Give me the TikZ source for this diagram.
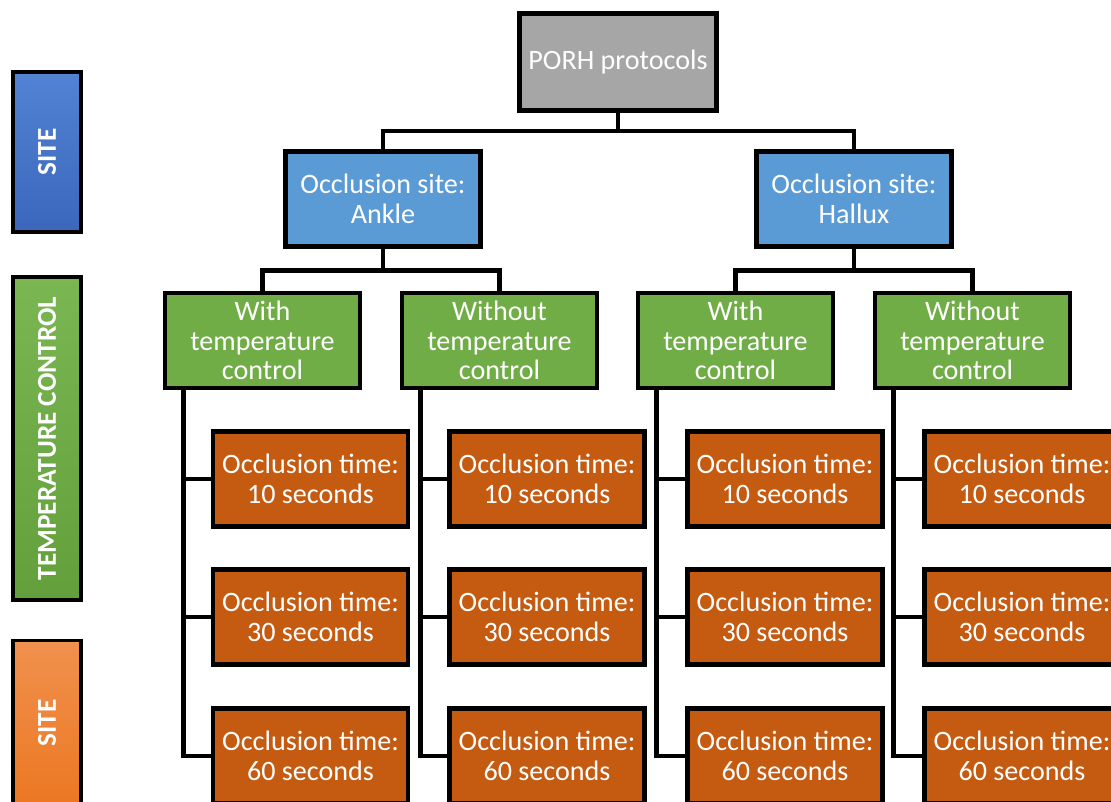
\documentclass[tikz,border=0pt]{standalone}
\usepackage{fontspec}
\setmainfont{Carlito}
\usetikzlibrary{calc}
\definecolor{boxgray}{HTML}{A6A6A6}
\definecolor{siteblue}{HTML}{5B9BD5}
\definecolor{tempgreen}{HTML}{70AD47}
\definecolor{timeorange}{HTML}{C55A11}
\definecolor{legblueT}{HTML}{5283D3}
\definecolor{legblueB}{HTML}{3B66BC}
\definecolor{leggreenT}{HTML}{7AB651}
\definecolor{leggreenB}{HTML}{63A03C}
\definecolor{legorangeT}{HTML}{F0914E}
\definecolor{legorangeB}{HTML}{EC7722}
\begin{document}
\begin{tikzpicture}[x=0.02cm,y=-0.02cm,
  box/.style={draw=black,line width=2.6pt,text=white,align=center,
    inner sep=0pt,minimum width=3.9cm,minimum height=1.9cm,
    font=\fontsize{16}{16.8}\selectfont},
  legend/.style={draw=black,line width=2.2pt,inner sep=0pt,text=white,
    minimum width=1.35cm,font=\fontsize{15.5}{17}\selectfont\bfseries},
  link/.style={draw=black,line width=2.6pt}]
\useasboundingbox (0,0) rectangle (1111,801);
\clip (0,0) rectangle (1111,801);

% legend bars on the left
\node[legend,minimum height=3.2cm,top color=legblueT,bottom color=legblueB]
  (lsite) at (47,152) {\rotatebox{90}{SITE}};
\node[legend,minimum height=6.45cm,top color=leggreenT,bottom color=leggreenB]
  (ltemp) at (47,438.5) {\rotatebox{90}{TEMPERATURE CONTROL}};
\node[legend,minimum height=3.3cm,top color=legorangeT,bottom color=legorangeB]
  (ltime) at (47,723) {\rotatebox{90}{SITE}};

% root
\node[box,fill=boxgray,minimum width=3.95cm,minimum height=1.95cm] (porh) at (618,62) {PORH protocols};

% occlusion sites
\node[box,fill=siteblue] (ankle) at (383,199) {Occlusion site:\\Ankle};
\node[box,fill=siteblue] (hallux) at (854,199) {Occlusion site:\\Hallux};

% temperature control
\node[box,fill=tempgreen] (g1) at (262.5,340.5) {With\\temperature\\control};
\node[box,fill=tempgreen] (g2) at (499.5,340.5) {Without\\temperature\\control};
\node[box,fill=tempgreen] (g3) at (735.5,340.5) {With\\temperature\\control};
\node[box,fill=tempgreen] (g4) at (972.5,340.5) {Without\\temperature\\control};

% occlusion times
\foreach \g/\cx in {1/310.5,2/547,3/785,4/1022}{
  \node[box,fill=timeorange] (o\g a) at (\cx,479) {Occlusion time:\\10 seconds};
  \node[box,fill=timeorange] (o\g b) at (\cx,617) {Occlusion time:\\30 seconds};
  \node[box,fill=timeorange] (o\g c) at (\cx,756) {Occlusion time:\\60 seconds};
}

% connectors
\draw[link] (porh.south) -- ++(0,18) coordinate (bus0);
\draw[link] (bus0) -| (ankle.north);
\draw[link] (bus0) -| (hallux.north);
\draw[link] (ankle.south) -- ++(0,22) coordinate (bus1);
\draw[link] (bus1) -| (g1.north);
\draw[link] (bus1) -| (g2.north);
\draw[link] (hallux.south) -- ++(0,22) coordinate (bus2);
\draw[link] (bus2) -| (g3.north);
\draw[link] (bus2) -| (g4.north);
\foreach \g in {1,2,3,4}{
  \coordinate (t\g) at ($(g\g.south west)+(21,0)$);
  \draw[link] (t\g) |- (o\g a.west);
  \draw[link] (t\g) |- (o\g b.west);
  \draw[link] (t\g) |- (o\g c.west);
}
\end{tikzpicture}
\end{document}
